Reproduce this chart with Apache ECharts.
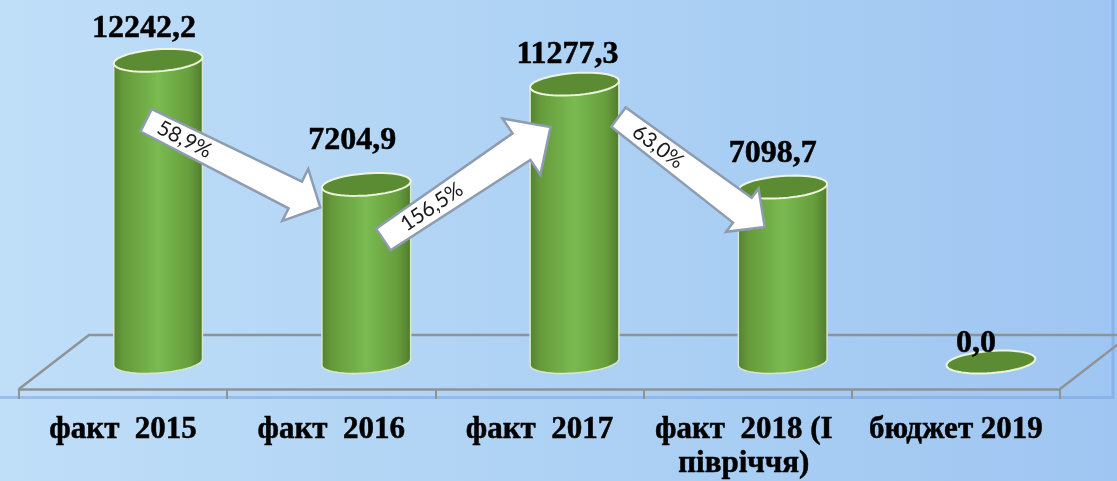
<!DOCTYPE html>
<html>
<head>
<meta charset="utf-8">
<title>chart</title>
<style>
html,body{margin:0;padding:0;background:#aed2f4;}
#main{width:1117px;height:481px;}
</style>
<script src="https://cdn.jsdelivr.net/npm/echarts@6/dist/echarts.min.js"></script>
</head>
<body>
<div id="main"></div>
<script>
var categories = ['факт  2015', 'факт  2016', 'факт  2017', 'факт  2018 (І \nпівріччя) ', 'бюджет 2019'];
var values = [12242.2, 7204.9, 11277.3, 7098.7, 0.0];
var valueLabels = ['12242,2', '7204,9', '11277,3', '7098,7', '0,0'];
var arrowFrom = [0, 1, 2];
var arrowTo = [1, 2, 3];
var arrowLabels = ['58,9%', '156,5%', '63,0%'];

// floor depth of the fake 3d box, the bars stand in the middle of it
var depthX = 70, depthY = 54;
var ra = 44.5, rb = 11, tilt = 0.075;
// label offset from the bar top, placed by hand in the original
var labelNudge = [[-14, -32], [-14, -44], [-7, -29], [-10, -33], [-15, -18]];
// arrow ends relative to the top of the bars they join, the shaft widens towards the head
var arrowGeom = [
	{tail: [-12, 60], tip: [-46, 23], tailW: 25, neckW: 30, headW: 58, headL: 28, at: 0.22},
	{tail: [17, 55], tip: [-24, 43], tailW: 26, neckW: 32, headW: 68, headL: 35, at: 0.29},
	{tail: [44, 33], tip: [-18, 40], tailW: 24, neckW: 31, headW: 54, headL: 28, at: 0.27}
];

var chart = echarts.init(document.getElementById('main'));

function ellipse(cx, cy, from, to, n) {
	var pts = [];
	for (var i = 0; i <= n; i++) {
		var t = from + (to - from) * i / n;
		var x = ra * Math.cos(t), y = rb * Math.sin(t);
		pts.push([cx + x * Math.cos(tilt) + y * Math.sin(tilt), cy - x * Math.sin(tilt) + y * Math.cos(tilt)]);
	}
	return pts;
}

function barTop(api, idx) {
	var p = api.coord([idx, values[idx]]);
	return [p[0] + depthX / 2, p[1] - depthY / 2];
}

function renderBar(params, api) {
	var idx = api.value(0);
	var top = barTop(api, idx);
	var base = api.coord([idx, 0]);
	var bx = base[0] + depthX / 2, by = base[1] - depthY / 2;
	var children = [];
	if (api.value(1) > 0) {
		// left edge of the top, round the front of the base, right edge of the top
		var pts = ellipse(bx, by, Math.PI, 0, 40);
		pts.unshift(ellipse(top[0], top[1], Math.PI, Math.PI, 1)[0]);
		pts.push(ellipse(top[0], top[1], 0, 0, 1)[0]);
		children.push({
			type: 'polygon',
			shape: {points: pts},
			style: {
				fill: new echarts.graphic.LinearGradient(0, 0, 1, 0, [
					{offset: 0, color: '#557f31'},
					{offset: 0.12, color: '#659b3b'},
					{offset: 0.5, color: '#7aba50'},
					{offset: 0.85, color: '#669e3c'},
					{offset: 1, color: '#507a2e'}
				]),
				stroke: '#dbe7cd',
				lineWidth: 1.5
			}
		});
	}
	children.push({
		type: 'polygon',
		shape: {points: ellipse(top[0], top[1], 0, Math.PI * 2, 60)},
		style: {fill: '#5b8c33', stroke: '#eef5dc', lineWidth: 2}
	});
	children.push({
		type: 'text',
		x: top[0] + labelNudge[idx][0],
		y: top[1] + labelNudge[idx][1],
		style: {
			text: valueLabels[idx],
			font: 'bold 32px "Liberation Serif"',
			fill: '#000',
			stroke: '#000',
			lineWidth: 0.5,
			align: 'center',
			verticalAlign: 'middle'
		}
	});
	return {type: 'group', children: children};
}

function renderArrow(params, api) {
	var i = api.value(0);
	var g = arrowGeom[i];
	var a = barTop(api, arrowFrom[i]), b = barTop(api, arrowTo[i]);
	var tx = a[0] + g.tail[0], ty = a[1] + g.tail[1];
	var px = b[0] + g.tip[0], py = b[1] + g.tip[1];
	var ang = Math.atan2(py - ty, px - tx);
	var len = Math.sqrt((px - tx) * (px - tx) + (py - ty) * (py - ty));
	var s0 = g.tailW / 2, s1 = g.neckW / 2, h = g.headW / 2;
	var neck = len - g.headL;
	var local = [[0, -s0], [neck, -s1], [neck, -h], [len, 0], [neck, h], [neck, s1], [0, s0]];
	var pts = local.map(function (p) {
		return [tx + p[0] * Math.cos(ang) - p[1] * Math.sin(ang), ty + p[0] * Math.sin(ang) + p[1] * Math.cos(ang)];
	});
	return {
		type: 'group',
		children: [{
			type: 'polygon',
			shape: {points: pts},
			style: {fill: '#fff', stroke: '#8d9cb0', lineWidth: 2.5, lineJoin: 'miter'}
		}, {
			type: 'text',
			x: tx + len * g.at * Math.cos(ang),
			y: ty + len * g.at * Math.sin(ang),
			rotation: -ang,
			style: {
				text: arrowLabels[i],
				font: '21px Lato',
				fill: '#1a1a1a',
				align: 'center',
				verticalAlign: 'middle'
			}
		}]
	};
}

var gridL = 19, gridR = 1060, gridB = 389;

var option = {
	animation: false,
	backgroundColor: new echarts.graphic.LinearGradient(0, 0, 1, 0, [
		{offset: 0, color: '#bfdef8'},
		{offset: 0.5, color: '#aed2f4'},
		{offset: 1, color: '#9fc6f2'}
	]),
	graphic: [{
		// darker band along the bottom and right of the plot frame
		type: 'polyline',
		z: 0,
		shape: {points: [[0, 397.5], [1113, 397.5], [1113, 0]]},
		style: {stroke: 'rgba(118,160,226,0.5)', lineWidth: 3, fill: null}
	}, {
		// floor of the box
		type: 'polyline',
		z: 1,
		shape: {points: [[gridL, gridB], [gridL + depthX, gridB - depthY], [gridR + depthX, gridB - depthY], [gridR, gridB]]},
		style: {stroke: '#8f9396', lineWidth: 2.5, fill: null}
	}],
	grid: {left: gridL, top: 44, width: gridR - gridL, height: gridB - 44},
	xAxis: {
		type: 'category',
		data: categories,
		z: 2,
		axisLine: {show: true, lineStyle: {color: '#8f9396', width: 2.5}},
		axisTick: {show: true, length: 10, lineStyle: {color: '#8f9396', width: 2}},
		axisLabel: {
			interval: 0,
			margin: 24,
			color: '#000',
			fontFamily: 'Liberation Serif',
			fontWeight: 'bold',
			fontSize: 31,
			lineHeight: 34,
			textBorderColor: '#000',
			textBorderWidth: 0.5
		}
	},
	yAxis: {type: 'value', min: 0, max: 14000, show: false},
	series: [{
		type: 'custom',
		z: 3,
		renderItem: renderBar,
		encode: {x: 0, y: 1},
		data: values.map(function (v, i) { return [i, v]; })
	}, {
		type: 'custom',
		z: 4,
		renderItem: renderArrow,
		encode: {x: 0},
		data: arrowLabels.map(function (l, i) { return [i]; })
	}]
};
chart.setOption(option);
</script>
</body>
</html>
